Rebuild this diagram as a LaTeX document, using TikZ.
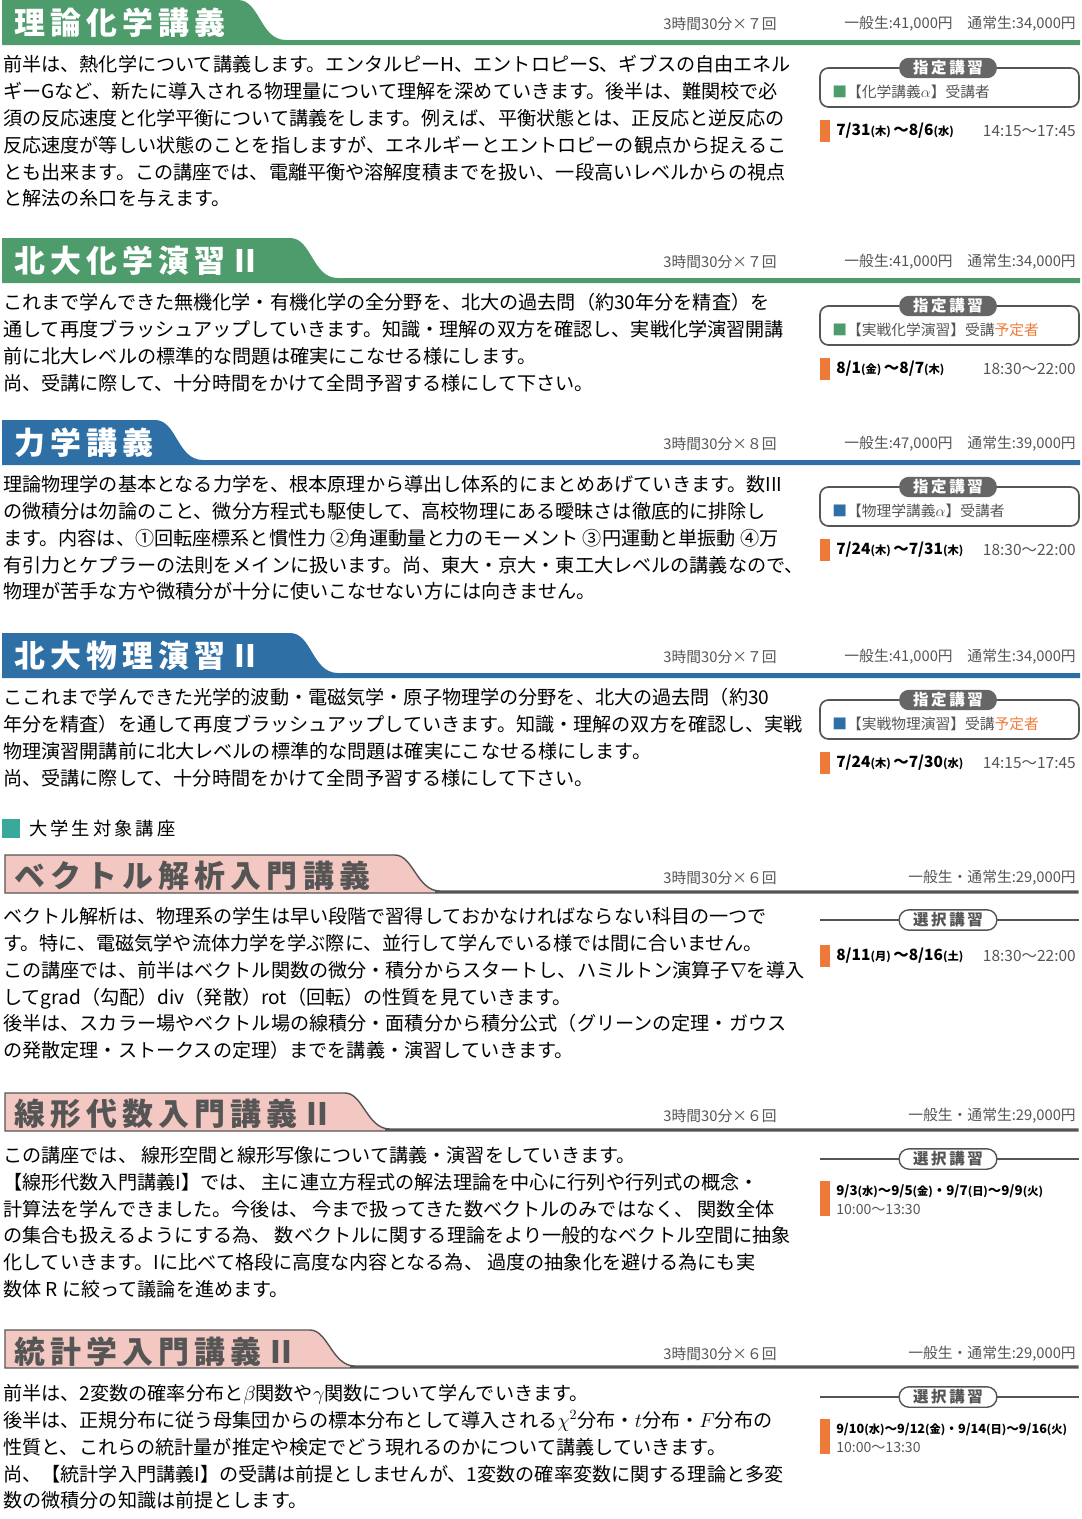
\documentclass[tikz,border=0pt]{standalone}
\usepackage{fontspec}
\setmainfont{Noto Sans CJK JP}
\usetikzlibrary{positioning}
\definecolor{chemgreen}{HTML}{4E9C6C}
\definecolor{physblue}{HTML}{2E6FA6}
\definecolor{unipink}{HTML}{F4C8C2}
\definecolor{darkline}{HTML}{555555}
\definecolor{pillgray}{HTML}{666666}
\definecolor{datebar}{HTML}{EE7A3A}
\definecolor{teal}{HTML}{3AA89A}
\tikzset{
  body/.style={anchor=north west,align=left,inner sep=0pt,font=\fontsize{13.6}{19.1}\selectfont},
  meta/.style={inner sep=0pt,font=\fontsize{10.5}{12}\selectfont,text=darkline},
  title/.style={anchor=west,inner sep=0pt,font=\fontsize{22}{24}\selectfont\bfseries},
  pill/.style={rounded corners=7pt,inner xsep=10pt,inner ysep=2pt,font=\fontsize{11}{12}\selectfont\bfseries},
  datetext/.style={anchor=west,inner sep=0pt,font=\fontsize{11}{13}\selectfont},
}
% coloured heading band
\newcommand\bandhead[3]{%
  \fill[#3] (2,#1) -- (#2,#1) .. controls (#2+22,#1) and (#2+22,#1+40) .. (#2+48,#1+40)
    -- (1080,#1+40) -- (1080,#1+45) -- (2,#1+45) -- cycle;}
% outlined pink heading band
\newcommand\pinkhead[2]{%
  \filldraw[fill=unipink,draw=darkline,line width=1pt] (5,#1) -- (#2,#1)
    .. controls (#2+18,#1) and (#2+22,#1+36) .. (#2+45,#1+36) -- (1078,#1+36)
    -- (1078,#1+38) -- (5,#1+38) -- cycle;
  \draw[darkline,line width=2pt] (#2+40,#1+37) -- (1078,#1+37);}
\newcommand\wkday[1]{{\fontsize{8}{10}\selectfont(#1)}}
\begin{document}
\begin{tikzpicture}[x=0.025cm,y=-0.025cm]
\useasboundingbox (0,0) rectangle (1082,1519);

% ---- 理論化学講義
\bandhead{0}{238}{chemgreen}
\node[title,text=white] (t1) at (14,23) {理\,論\,化\,学\,講\,義};
\node[meta] (m1a) at (720,24) {3時間30分×７回};
\node[meta,anchor=east] (m1b) at (1076,24) {一般生:41,000円\quad 通常生:34,000円};
\node[body] (b1) at (3,55) {前半は、熱化学について講義します。エンタルピーH、エントロピーS、ギブスの自由エネル\\
ギーGなど、新たに導入される物理量について理解を深めていきます。後半は、難関校で必\\
須の反応速度と化学平衡について講義をします。例えば、平衡状態とは、正反応と逆反応の\\
反応速度が等しい状態のことを指しますが、エネルギーとエントロピーの観点から捉えるこ\\
とも出来ます。この講座では、電離平衡や溶解度積までを扱い、一段高いレベルからの視点\\
と解法の糸口を与えます。};
\draw[darkline,line width=1.2pt,rounded corners=6pt] (820,68) rectangle (1079,107);
\node[pill,fill=pillgray,text=white] (p1) at (948,68) {指\,定\,講\,習};
\node[datetext,anchor=west,text=darkline,font=\fontsize{10.5}{12}\selectfont] (s1) at (832,92) {\textcolor{chemgreen}{■}【化学講義$\alpha$】受講者};
\fill[datebar] (820,120) rectangle (830,142);
\node[datetext,font=\fontsize{11}{13}\selectfont\bfseries] (d1) at (836,131) {7/31\wkday{木}\,〜8/6\wkday{水}};
\node[datetext,anchor=east,text=darkline] (h1) at (1076,131) {14:15〜17:45};

% ---- 北大化学演習II
\bandhead{238}{290}{chemgreen}
\node[title,text=white] (t2) at (14,261) {北\,大\,化\,学\,演\,習\;II};
\node[meta] (m2a) at (720,262) {3時間30分×７回};
\node[meta,anchor=east] (m2b) at (1076,262) {一般生:41,000円\quad 通常生:34,000円};
\node[body] (b2) at (3,293) {これまで学んできた無機化学・有機化学の全分野を、北大の過去問（約30年分を精査）を\\
通して再度ブラッシュアップしていきます。知識・理解の双方を確認し、実戦化学演習開講\\
前に北大レベルの標準的な問題は確実にこなせる様にします。\\
尚、受講に際して、十分時間をかけて全問予習する様にして下さい。};
\draw[darkline,line width=1.2pt,rounded corners=6pt] (820,306) rectangle (1079,345);
\node[pill,fill=pillgray,text=white] (p2) at (948,306) {指\,定\,講\,習};
\node[datetext,text=darkline,font=\fontsize{10.5}{12}\selectfont] (s2) at (832,330) {\textcolor{chemgreen}{■}【実戦化学演習】受講\textcolor{datebar}{予定者}};
\fill[datebar] (820,358) rectangle (830,380);
\node[datetext,font=\fontsize{11}{13}\selectfont\bfseries] (d2) at (836,369) {8/1\wkday{金}\,〜8/7\wkday{木}};
\node[datetext,anchor=east,text=darkline] (h2) at (1076,369) {18:30〜22:00};

% ---- 力学講義
\bandhead{420}{155}{physblue}
\node[title,text=white] (t3) at (14,443) {力\,学\,講\,義};
\node[meta] (m3a) at (720,444) {3時間30分×８回};
\node[meta,anchor=east] (m3b) at (1076,444) {一般生:47,000円\quad 通常生:39,000円};
\node[body] (b3) at (3,475) {理論物理学の基本となる力学を、根本原理から導出し体系的にまとめあげていきます。数III\\
の微積分は勿論のこと、微分方程式も駆使して、高校物理にある曖昧さは徹底的に排除し\\
ます。内容は、①回転座標系と慣性力 ②角運動量と力のモーメント ③円運動と単振動 ④万\\
有引力とケプラーの法則をメインに扱います。尚、東大・京大・東工大レベルの講義なので、\\
物理が苦手な方や微積分が十分に使いこなせない方には向きません。};
\draw[darkline,line width=1.2pt,rounded corners=6pt] (820,487) rectangle (1079,526);
\node[pill,fill=pillgray,text=white] (p3) at (948,487) {指\,定\,講\,習};
\node[datetext,text=darkline,font=\fontsize{10.5}{12}\selectfont] (s3) at (832,511) {\textcolor{physblue}{■}【物理学講義$\alpha$】受講者};
\fill[datebar] (820,539) rectangle (830,561);
\node[datetext,font=\fontsize{11}{13}\selectfont\bfseries] (d3) at (836,550) {7/24\wkday{木}\,〜7/31\wkday{木}};
\node[datetext,anchor=east,text=darkline] (h3) at (1076,550) {18:30〜22:00};

% ---- 北大物理演習II
\bandhead{633}{290}{physblue}
\node[title,text=white] (t4) at (14,656) {北\,大\,物\,理\,演\,習\;II};
\node[meta] (m4a) at (720,657) {3時間30分×７回};
\node[meta,anchor=east] (m4b) at (1076,657) {一般生:41,000円\quad 通常生:34,000円};
\node[body] (b4) at (3,688) {ここれまで学んできた光学的波動・電磁気学・原子物理学の分野を、北大の過去問（約30\\
年分を精査）を通して再度ブラッシュアップしていきます。知識・理解の双方を確認し、実戦\\
物理演習開講前に北大レベルの標準的な問題は確実にこなせる様にします。\\
尚、受講に際して、十分時間をかけて全問予習する様にして下さい。};
\draw[darkline,line width=1.2pt,rounded corners=6pt] (820,700) rectangle (1079,739);
\node[pill,fill=pillgray,text=white] (p4) at (948,700) {指\,定\,講\,習};
\node[datetext,text=darkline,font=\fontsize{10.5}{12}\selectfont] (s4) at (832,724) {\textcolor{physblue}{■}【実戦物理演習】受講\textcolor{datebar}{予定者}};
\fill[datebar] (820,752) rectangle (830,774);
\node[datetext,font=\fontsize{11}{13}\selectfont\bfseries] (d4) at (836,763) {7/24\wkday{木}\,〜7/30\wkday{水}};
\node[datetext,anchor=east,text=darkline] (h4) at (1076,763) {14:15〜17:45};

% ---- 大学生対象講座
\fill[teal] (2,819) rectangle (20,838);
\node[anchor=west,inner sep=0pt,font=\fontsize{13}{15}\selectfont] (u0) at (29,829) {大\,学\,生\,対\,象\,講\,座};

% ---- ベクトル解析入門講義
\pinkhead{855}{395}
\node[title,text=darkline] (t5) at (14,876) {ベ\,ク\,ト\,ル\,解\,析\,入\,門\,講\,義};
\node[meta] (m5a) at (720,878) {3時間30分×６回};
\node[meta,anchor=east] (m5b) at (1076,878) {一般生・通常生:29,000円};
\node[body] (b5) at (3,907) {ベクトル解析は、物理系の学生は早い段階で習得しておかなければならない科目の一つで\\
す。特に、電磁気学や流体力学を学ぶ際に、並行して学んでいる様では間に合いません。\\
この講座では、前半はベクトル関数の微分・積分からスタートし、ハミルトン演算子$\nabla$を導入\\
してgrad（勾配）div（発散）rot（回転）の性質を見ていきます。\\
後半は、スカラー場やベクトル場の線積分・面積分から積分公式（グリーンの定理・ガウス\\
の発散定理・ストークスの定理）までを講義・演習していきます。};
\draw[darkline,line width=1pt] (820,920) -- (1079,920);
\node[pill,fill=white,draw=darkline,line width=1pt,text=darkline] (p5) at (948,920) {選\,択\,講\,習};
\fill[datebar] (820,945) rectangle (830,967);
\node[datetext,font=\fontsize{11}{13}\selectfont\bfseries] (d5) at (836,956) {8/11\wkday{月}\,〜8/16\wkday{土}};
\node[datetext,anchor=east,text=darkline] (h5) at (1076,956) {18:30〜22:00};

% ---- 線形代数入門講義II
\pinkhead{1093}{345}
\node[title,text=darkline] (t6) at (14,1114) {線\,形\,代\,数\,入\,門\,講\,義\;II};
\node[meta] (m6a) at (720,1116) {3時間30分×６回};
\node[meta,anchor=east] (m6b) at (1076,1116) {一般生・通常生:29,000円};
\node[body] (b6) at (3,1146) {この講座では、 線形空間と線形写像について講義・演習をしていきます。\\
【線形代数入門講義I】では、 主に連立方程式の解法理論を中心に行列や行列式の概念・\\
計算法を学んできました。今後は、 今まで扱ってきた数ベクトルのみではなく、 関数全体\\
の集合も扱えるようにする為、 数ベクトルに関する理論をより一般的なベクトル空間に抽象\\
化していきます。Iに比べて格段に高度な内容となる為、 過度の抽象化を避ける為にも実\\
数体 R に絞って議論を進めます。};
\draw[darkline,line width=1pt] (820,1159) -- (1079,1159);
\node[pill,fill=white,draw=darkline,line width=1pt,text=darkline] (p6) at (948,1159) {選\,択\,講\,習};
\fill[datebar] (820,1181) rectangle (830,1216);
\node[datetext,font=\fontsize{9.5}{12}\selectfont\bfseries] (d6) at (836,1191) {9/3\wkday{水}〜9/5\wkday{金}・9/7\wkday{日}〜9/9\wkday{火}};
\node[datetext,text=darkline,font=\fontsize{10}{12}\selectfont] (h6) at (836,1209) {10:00〜13:30};

% ---- 統計学入門講義II
\pinkhead{1330}{310}
\node[title,text=darkline] (t7) at (14,1352) {統\,計\,学\,入\,門\,講\,義\;II};
\node[meta] (m7a) at (720,1354) {3時間30分×６回};
\node[meta,anchor=east] (m7b) at (1076,1354) {一般生・通常生:29,000円};
\node[body] (b7) at (3,1384) {前半は、2変数の確率分布と$\beta$関数や$\gamma$関数について学んでいきます。\\
後半は、正規分布に従う母集団からの標本分布として導入される$\chi^2$分布・$t$分布・$F$分布の\\
性質と、これらの統計量が推定や検定でどう現れるのかについて講義していきます。\\
尚、【統計学入門講義I】の受講は前提としませんが、1変数の確率変数に関する理論と多変\\
数の微積分の知識は前提とします。};
\draw[darkline,line width=1pt] (820,1397) -- (1079,1397);
\node[pill,fill=white,draw=darkline,line width=1pt,text=darkline] (p7) at (948,1397) {選\,択\,講\,習};
\fill[datebar] (820,1419) rectangle (830,1454);
\node[datetext,font=\fontsize{9}{12}\selectfont\bfseries] (d7) at (836,1429) {9/10\wkday{水}〜9/12\wkday{金}・9/14\wkday{日}〜9/16\wkday{火}};
\node[datetext,text=darkline,font=\fontsize{10}{12}\selectfont] (h7) at (836,1447) {10:00〜13:30};
\end{tikzpicture}
\end{document}
